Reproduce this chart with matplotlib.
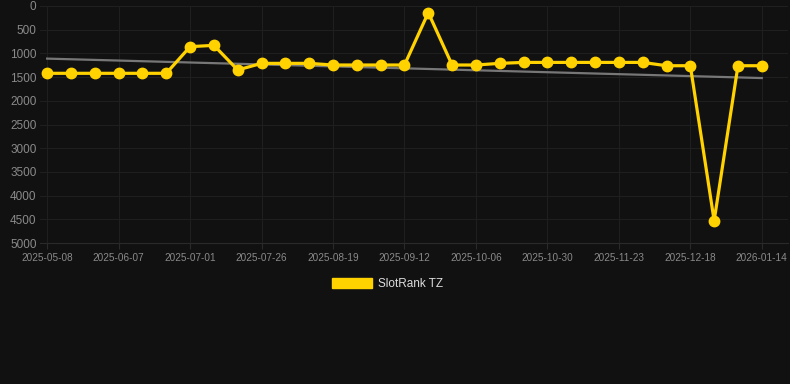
import matplotlib
matplotlib.use("Agg")
import matplotlib.pyplot as plt
from matplotlib.patches import Patch
import numpy as np

plt.rcParams['font.family'] = ['Liberation Sans', 'DejaVu Sans']

# dates of the samples (only every third one is labelled on the axis)
dates = ['2025-05-08', '2025-05-18', '2025-05-28', '2025-06-07', '2025-06-15',
         '2025-06-23', '2025-07-01', '2025-07-09', '2025-07-17', '2025-07-26',
         '2025-08-03', '2025-08-11', '2025-08-19', '2025-08-27', '2025-09-04',
         '2025-09-12', '2025-09-20', '2025-09-28', '2025-10-06', '2025-10-14',
         '2025-10-22', '2025-10-30', '2025-11-07', '2025-11-15', '2025-11-23',
         '2025-12-01', '2025-12-09', '2025-12-18', '2025-12-27', '2026-01-05',
         '2026-01-14']
rank = [1420, 1420, 1420, 1420, 1420, 1420, 858, 830, 1350, 1210,
        1210, 1210, 1245, 1245, 1245, 1245, 140, 1245, 1245, 1210,
        1190, 1190, 1190, 1190, 1190, 1190, 1260, 1260, 4530, 1260,
        1260]
trend_ends = [1110, 1520]
yticks = [0, 500, 1000, 1500, 2000, 2500, 3000, 3500, 4000, 4500, 5000]

bg = '#111111'
yellow = '#ffd200'

fig = plt.figure(figsize=(7.9, 3.84), dpi=100, facecolor=bg)
ax = fig.add_axes([40 / 790, 1 - 243 / 384, 748 / 790, 237 / 384])
ax.set_facecolor(bg)

x = np.arange(len(dates))
ax.plot([x[0], x[-1]], trend_ends, color='#777777', lw=1.6, zorder=2)
ax.plot(x, rank, color=yellow, lw=2.3, marker='o', ms=7.5, zorder=3)

ax.set_ylim(5000, 0)
ax.set_xlim(-0.3, 31.1)
ax.set_yticks(yticks)
ax.set_yticklabels([str(v) for v in yticks])
ax.set_xticks(x[::3])
ax.set_xticklabels(dates[::3])

ax.grid(True, color='#1f1f1f', lw=0.8)
ax.set_axisbelow(True)
for s in ['top', 'right', 'left']:
    ax.spines[s].set_visible(False)
ax.spines['bottom'].set_color('#2a2a2a')
ax.tick_params(axis='y', length=0, pad=2.5, labelsize=8.5, labelcolor='#8a8a8a')
ax.tick_params(axis='x', length=4, color='#2a2a2a', pad=3, labelsize=7.2,
               labelcolor='#8a8a8a')

fig.legend(handles=[Patch(facecolor=yellow, edgecolor=yellow, label='SlotRank TZ')],
           loc='center', bbox_to_anchor=(0.49, 1 - 284 / 384), frameon=False,
           handlelength=3.4, handleheight=1.0, handletextpad=0.5,
           fontsize=8.5, labelcolor='#dddddd')

fig.savefig('out.png', dpi=100, facecolor=bg)
